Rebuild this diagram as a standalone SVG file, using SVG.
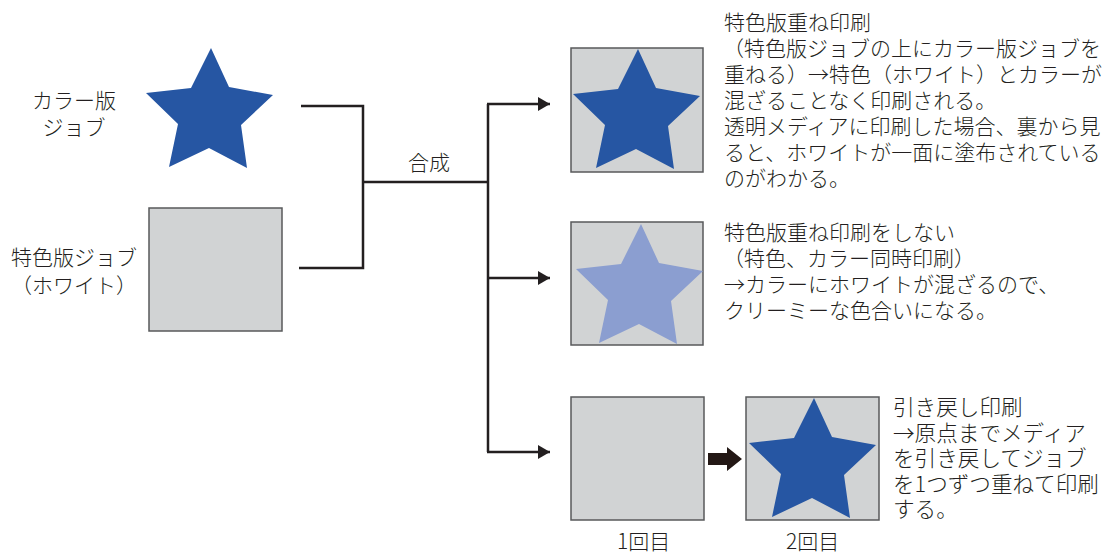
<svg xmlns="http://www.w3.org/2000/svg" width="1102" height="552" viewBox="0 0 1102 552">
<style>
text{font-family:"Noto Sans CJK JP","Noto Sans CJK SC",sans-serif;font-size:21px;font-weight:300;fill:#231f20}
.mid{text-anchor:middle}
.br{font-size:21.6px}
.sq{fill:#d1d3d4;stroke:#58595b;stroke-width:1.5}
.dark{fill:#2656a3}
.light{fill:#8b9ed0}
.ln{fill:none;stroke:#231f20;stroke-width:2.5}
</style>
<defs>
<path id="star" d="M0,0 L18,39 L62,47 L30,77 L36,120 L-2,100 L-42,119 L-33,76 L-65,45 L-20,40 Z"/>
<marker id="ah" markerUnits="userSpaceOnUse" markerWidth="13" markerHeight="14" refX="12" refY="7" orient="auto">
<path d="M0,0 L12,7 L0,14 Z" fill="#231f20"/>
</marker>
</defs>
<g id="connectors">
<path class="ln" d="M301,106 H363 V268 H299"/>
<path class="ln" d="M363,182 H488"/>
<path class="ln" d="M488,104 V452"/>
<path class="ln" d="M487,104 H550" marker-end="url(#ah)"/>
<path class="ln" d="M487,278 H550" marker-end="url(#ah)"/>
<path class="ln" d="M487,452 H550" marker-end="url(#ah)"/>
<polygon points="708,453 727,453 727,447 742,459 727,471 727,465 708,465" fill="#231815"/>
<text x="408" y="170">合成</text>
</g>
<g id="color-job">
<text class="mid" x="74" y="108">カラー版</text>
<text class="mid" x="74" y="135">ジョブ</text>
<use href="#star" class="dark" transform="translate(211,48)"/>
</g>
<g id="white-job">
<text class="mid" x="74" y="265">特色版ジョブ</text>
<text class="mid" x="74" y="293">（ホワイト）</text>
<rect class="sq" x="149" y="208" width="133" height="123"/>
</g>
<g id="result-overprint">
<rect class="sq" x="571" y="48" width="132" height="124"/>
<use href="#star" class="dark" transform="translate(638,49)"/>
<text x="724" y="30">特色版重ね印刷</text>
<text x="723" y="56">（特色版ジョブの上にカラー版ジョブを</text>
<text x="724" y="82">重ねる）→特色（ホワイト）とカラーが</text>
<text x="724" y="108">混ざることなく印刷される。</text>
<text x="724" y="134">透明メディアに印刷した場合、裏から見</text>
<text x="724" y="160">ると、ホワイトが一面に塗布されている</text>
<text x="724" y="186">のがわかる。</text>
</g>
<g id="result-no-overprint">
<rect class="sq" x="571" y="222" width="132" height="123"/>
<use href="#star" class="light" transform="translate(641,224)"/>
<text x="724" y="240">特色版重ね印刷をしない</text>
<text x="723" y="266">（特色、カラー同時印刷）</text>
<text x="724" y="292">→カラーにホワイトが混ざるので、</text>
<text x="724" y="318">クリーミーな色合いになる。</text>
</g>
<g id="result-rewind">
<rect class="sq" x="571" y="397" width="133" height="123"/>
<rect class="sq" x="746" y="397" width="133" height="123"/>
<use href="#star" class="dark" transform="translate(814,398)"/>
<text x="617" y="549">1回目</text>
<text x="786" y="549">2回目</text>
<text class="br" x="893" y="415">引き戻し印刷</text>
<text class="br" x="893" y="440.5">→原点までメディア</text>
<text class="br" x="893" y="466">を引き戻してジョブ</text>
<text class="br" x="893" y="491.5">を1つずつ重ねて印刷</text>
<text class="br" x="893" y="517">する。</text>
</g>
</svg>
